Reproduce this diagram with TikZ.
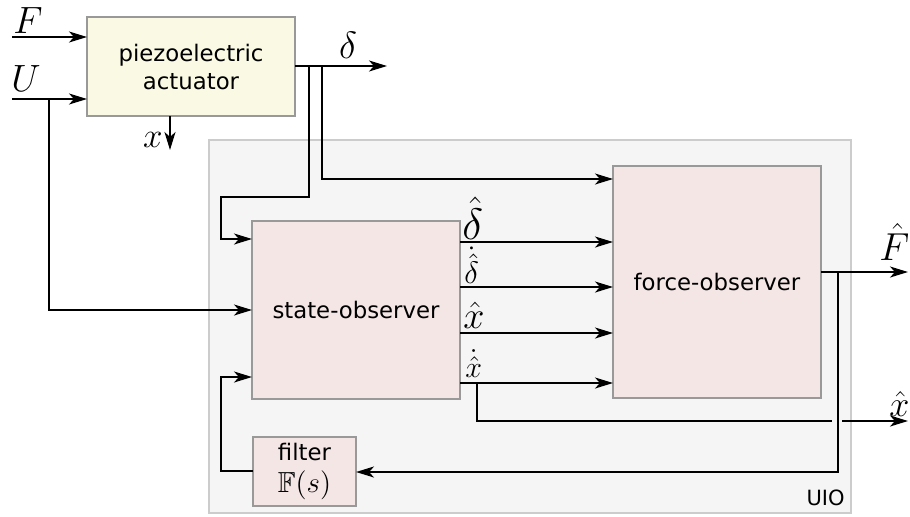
\RequirePackage{fix-cm}
\documentclass[tikz,border=0pt]{standalone}
\usepackage{fontspec}
\setmainfont{DejaVu Sans}
\usepackage{amssymb}
\usetikzlibrary{arrows.meta}
\definecolor{piezofill}{HTML}{FAFAE4}
\definecolor{obsfill}{HTML}{F5E6E6}
\definecolor{uiofill}{HTML}{F5F5F5}
\definecolor{uioborder}{HTML}{CCCCCC}
\definecolor{boxborder}{HTML}{999999}
\newcommand\msize[1]{\fontsize{#1}{#1}\selectfont}
\tikzset{
  blk/.style={draw=boxborder, line width=1pt, inner sep=0pt, outer sep=0pt, align=center,
    font=\fontsize{11.4}{14}\selectfont},
  arr/.style={line width=1pt, -{Stealth[length=9pt, width=5.5pt, inset=2.5pt]}},
  ln/.style={line width=1pt},
  lab/.style={inner sep=0pt, font=\msize{19}},
}
\begin{document}
\begin{tikzpicture}[x=0.5pt, y=-0.5pt]
\useasboundingbox (0,0) rectangle (910,516);
% UIO container
\node[draw=uioborder, fill=uiofill, line width=1pt, minimum width=321pt, minimum height=186.5pt, inner sep=0pt] (uio) at (530,326.5) {};
\node[anchor=base east, inner sep=0pt, font=\fontsize{10.5}{12}\selectfont] (uiolab) at (845,505) {UIO};
% blocks
\node[blk, fill=piezofill, minimum width=104pt, minimum height=49.5pt] (pz) at (191,66.5) {piezoelectric\\actuator};
\node[blk, fill=obsfill, minimum width=104pt, minimum height=89pt] (so) at (356,310) {state-observer};
\node[blk, fill=obsfill, minimum width=104pt, minimum height=116pt] (fo) at (717,282) {force-observer};
\node[blk, fill=obsfill, minimum width=51.5pt, minimum height=34.5pt, font=\fontsize{11.4}{16}\selectfont] (flt) at (304.5,471.5) {filter\\{\fontsize{14.5}{16}\selectfont$\mathbb{F}(s)$}};
% coordinates
\coordinate (Fin) at (12,37);
\coordinate (Uin) at (12,99);
\coordinate (xout) at (170,150);
\coordinate (dout) at (387,66);
\coordinate (b1) at (309,66);
\coordinate (b2) at (322,66);
\coordinate (ub) at (49,99);
\coordinate (xb) at (477,383);
\coordinate (xhgap) at (832,421);
\coordinate (xhstart) at (842,421);
\coordinate (xhout) at (908,421);
\coordinate (Fhout) at (908,272);
\coordinate (fb) at (838,272);
% inputs to piezo
\draw[arr] (Fin) -- (pz.west |- Fin);
\draw[arr] (Uin) -- (pz.west |- Uin);
\node[lab, anchor=base west] (Flab) at (13,33) {$F$};
\node[lab, anchor=base west] (Ulab) at (11,91) {$U$};
% outputs of piezo
\draw[arr] (pz.south -| xout) -- (xout);
\node[lab, anchor=base east, font=\msize{17.5}] (xlab) at (163,147) {$x$};
\draw[arr] (pz.east |- dout) -- (dout);
\node[lab, anchor=base] (dlab) at (348,58) {$\delta$};
% delta branches
\draw[arr] (b1) -- (309,197) -| (221,239) -- (so.west |- 0,239);
\draw[arr] (b2) |- (fo.west |- 0,179);
% U branch
\draw[arr] (ub) |- (so.west |- 0,310);
% state-observer outputs
\draw[arr] (so.east |- 0,242) -- (fo.west |- 0,242);
\draw[arr] (so.east |- 0,287) -- (fo.west |- 0,287);
\draw[arr] (so.east |- 0,333) -- (fo.west |- 0,333);
\draw[arr] (so.east |- 0,383) -- (fo.west |- 0,383);
\node[lab, anchor=south west, font=\msize{22}] (l1) at (462,240) {$\hat{\delta}$};
\node[lab, anchor=south west, font=\msize{15.5}] (l2) at (464,284) {$\dot{\hat{\delta}}$};
\node[lab, anchor=south west, font=\msize{19}] (l3) at (463,329) {$\hat{x}$};
\node[lab, anchor=south west, font=\msize{15}] (l4) at (465,378) {$\dot{\hat{x}}$};
% x-hat output with hop
\draw[ln] (xb) |- (xhgap);
\draw[arr] (xhstart) -- (xhout);
\node[lab, anchor=south west, font=\msize{18}] (xhlab) at (889,417) {$\hat{x}$};
% F-hat output
\draw[arr] (fo.east |- Fhout) -- (Fhout);
\node[lab, anchor=south west, font=\msize{19.5}] (Fhlab) at (879,261) {$\hat{F}$};
% feedback
\draw[arr] (fb) |- (flt.east |- 0,472);
\draw[arr] (flt.west |- 0,471) -- (221,471) |- (so.west |- 0,377);
\end{tikzpicture}
\end{document}
